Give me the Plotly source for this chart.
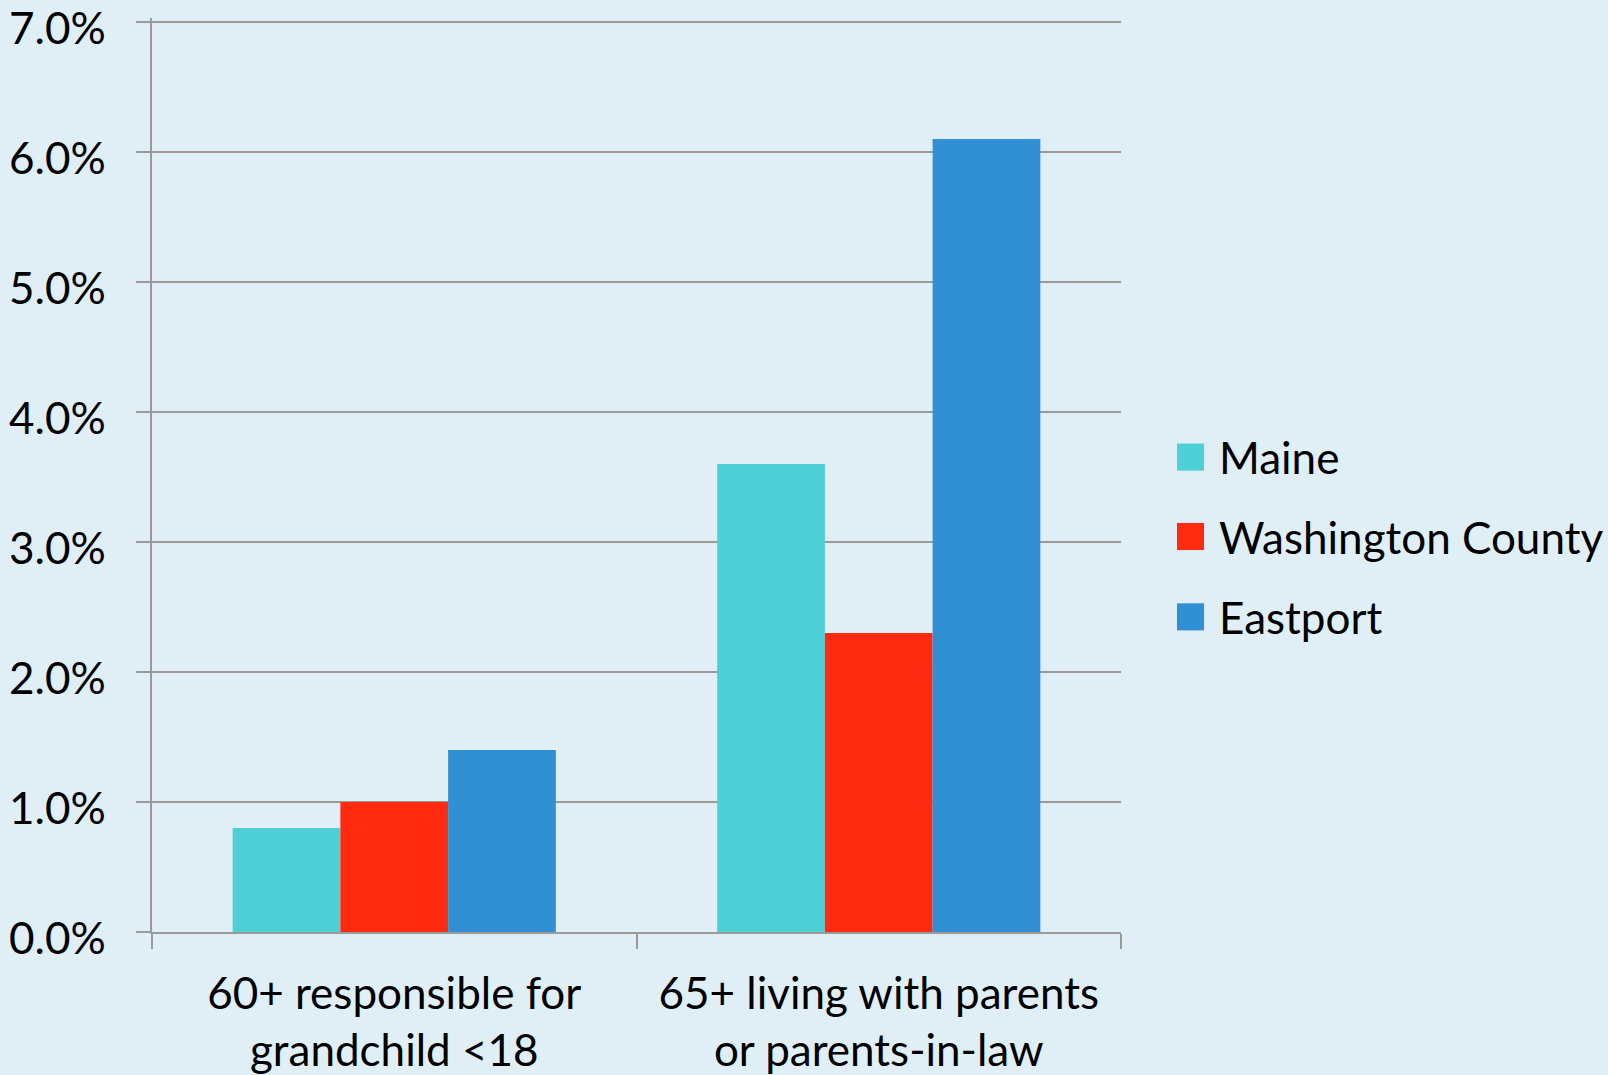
import plotly.graph_objs as go

# data
categories = ["60+ responsible for<br>grandchild <18",
              "65+ living with parents<br>or parents-in-law"]
series_names = ["Maine", "Washington County", "Eastport"]
maine = [0.008, 0.036]
washington = [0.010, 0.023]
eastport = [0.014, 0.061]
y_ticks = [0, 0.01, 0.02, 0.03, 0.04, 0.05, 0.06, 0.07]

colors = ["#4DD0D6", "#FF2A0F", "#3190D3"]
values = [maine, washington, eastport]
font = "Lato, Carlito, 'Open Sans', sans-serif"

traces = []
for name, vals, col in zip(series_names, values, colors):
    traces.append(go.Bar(
        x=categories,
        y=vals,
        name=name,
        marker={'color': col, 'line': {'width': 0}},
        showlegend=False
    ))

# hand-drawn legend (big square swatches like the original)
legend_y = [0.5196, 0.4327, 0.3448]
shapes = []
annotations = []
for name, col, ly in zip(series_names, colors, legend_y):
    shapes.append({
        'type': 'rect', 'xref': 'paper', 'yref': 'paper',
        'x0': 1.0578, 'x1': 1.0857,
        'y0': ly - 0.0148, 'y1': ly + 0.0148,
        'fillcolor': col, 'line': {'width': 0}
    })
    annotations.append({
        'xref': 'paper', 'yref': 'paper',
        'x': 1.0991, 'y': ly, 'xanchor': 'left', 'yanchor': 'middle',
        'text': name, 'showarrow': False,
        'font': {'family': font, 'size': 44, 'color': '#000'}
    })

# y tick labels sit a little below their gridlines in the original
for t in y_ticks:
    annotations.append({
        'xref': 'paper', 'yref': 'y',
        'x': 0, 'y': t, 'xanchor': 'right', 'yanchor': 'middle',
        'xshift': -44, 'yshift': -5,
        'text': '{:.1f}%'.format(t * 100), 'showarrow': False,
        'font': {'family': font, 'size': 44, 'color': '#000'}
    })

layout = go.Layout(
    width=1608,
    height=1075,
    barmode='group',
    bargap=0.333,
    bargroupgap=0,
    paper_bgcolor='#E0EEF6',
    plot_bgcolor='#E0EEF6',
    margin={'l': 152, 'r': 487, 't': 18, 'b': 143},
    font={'family': font, 'size': 44, 'color': '#000'},
    showlegend=False,
    xaxis={
        'type': 'category',
        'automargin': False,
        'tickson': 'boundaries',
        'ticks': 'outside',
        'ticklen': 15,
        'tickwidth': 1.5,
        'tickcolor': '#9A9A9A',
        'ticklabelstandoff': 22,
        'showgrid': False,
        'showline': True,
        'linecolor': '#9A9A9A',
        'linewidth': 2,
        'tickfont': {'size': 44}
    },
    yaxis={
        'automargin': False,
        'range': [0, 0.0703],
        'tickvals': y_ticks,
        'showticklabels': False,
        'ticks': 'outside',
        'ticklen': 14,
        'tickwidth': 2,
        'tickcolor': '#9A9A9A',
        'showgrid': True,
        'gridcolor': '#9A9A9A',
        'gridwidth': 2,
        'zeroline': False,
        'showline': True,
        'linecolor': '#9A9A9A',
        'linewidth': 1.5
    },
    shapes=shapes,
    annotations=annotations
)

fig = go.Figure(data=traces, layout=layout)
fig.write_html("out.html", config={'displayModeBar': False},
               post_script="document.body.style.margin='0';")
